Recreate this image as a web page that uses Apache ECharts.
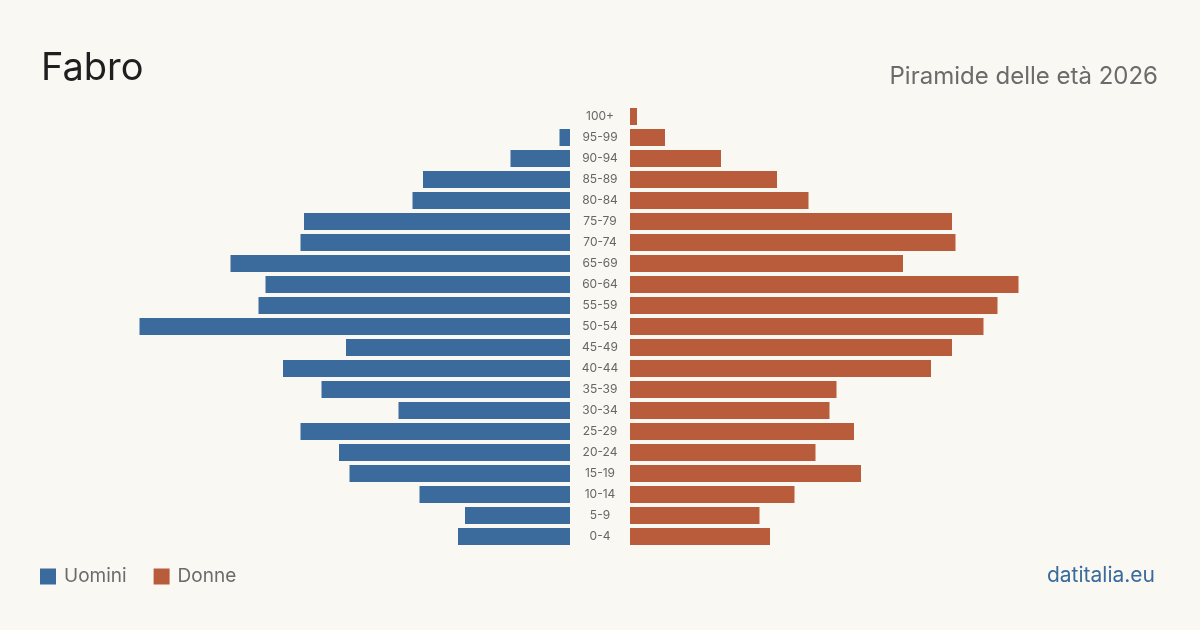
<!DOCTYPE html>
<html>
<head>
<meta charset="utf-8">
<script src="https://cdn.jsdelivr.net/npm/echarts@6/dist/echarts.min.js"></script>
<style>
  html, body { margin: 0; padding: 0; background: #faf8f3; }
  #chart { width: 1200px; height: 630px; }
</style>
</head>
<body>
<div id="chart"></div>
<script>
// classi di età, dal basso verso l'alto
let ageGroups = ['0-4', '5-9', '10-14', '15-19', '20-24', '25-29', '30-34', '35-39', '40-44', '45-49',
	'50-54', '55-59', '60-64', '65-69', '70-74', '75-79', '80-84', '85-89', '90-94', '95-99', '100+'];
let maleValues = [32, 30, 43, 63, 66, 77, 49, 71, 82, 64, 123, 89, 87, 97, 77, 76, 45, 42, 17, 3, 0];
let femaleValues = [40, 37, 47, 66, 53, 64, 57, 59, 86, 92, 101, 105, 111, 78, 93, 92, 51, 42, 26, 10, 2];

let blue = '#3b6b9c';
let orange = '#b95c3c';
let fontFamily = 'Inter, "Noto Sans", sans-serif';

let myChart = echarts.init(document.getElementById('chart'));

let option = {
	backgroundColor: '#faf8f3',
	textStyle: { fontFamily: fontFamily },
	title: [{
		text: 'Fabro',
		left: 36,
		top: 45,
		textStyle: { fontSize: 38, fontWeight: 'normal', color: '#1f1f1f', fontFamily: fontFamily }
	}, {
		text: 'Piramide delle età 2026',
		right: 37,
		top: 60,
		textStyle: { fontSize: 24, fontWeight: 'normal', color: '#6b6b6b', fontFamily: fontFamily }
	}, {
		text: 'datitalia.eu',
		right: 40,
		top: 560,
		textStyle: { fontSize: 21, fontWeight: 'normal', color: '#3b6b9c', fontFamily: fontFamily }
	}],
	legend: {
		left: 40,
		top: 567,
		padding: 0,
		itemWidth: 16,
		itemHeight: 16,
		itemGap: 27,
		icon: 'rect',
		textStyle: { fontSize: 19, color: '#6b6b6b', fontFamily: fontFamily, padding: [0, 0, 0, 3] },
		data: ['Uomini', 'Donne']
	},
	grid: [
		{ left: 115, width: 455, top: 106, height: 441 },
		{ left: 630, width: 455, top: 106, height: 441 }
	],
	xAxis: [
		{ gridIndex: 0, type: 'value', min: 0, max: 130, inverse: true, show: false },
		{ gridIndex: 1, type: 'value', min: 0, max: 130, show: false }
	],
	yAxis: [{
		gridIndex: 0, type: 'category', data: ageGroups, position: 'right',
		axisLine: { show: false }, axisTick: { show: false }, axisLabel: { show: false }
	}, {
		gridIndex: 1, type: 'category', data: ageGroups, position: 'left',
		axisLine: { show: false }, axisTick: { show: false },
		axisLabel: { margin: 30, align: 'center', fontSize: 12, color: '#666', fontFamily: fontFamily, padding: [2, 0, 0, 0] }
	}],
	series: [{
		name: 'Uomini',
		type: 'bar',
		xAxisIndex: 0,
		yAxisIndex: 0,
		barWidth: 17,
		itemStyle: { color: blue },
		data: maleValues
	}, {
		name: 'Donne',
		type: 'bar',
		xAxisIndex: 1,
		yAxisIndex: 1,
		barWidth: 17,
		itemStyle: { color: orange },
		data: femaleValues
	}]
};
myChart.setOption(option);
</script>
</body>
</html>
